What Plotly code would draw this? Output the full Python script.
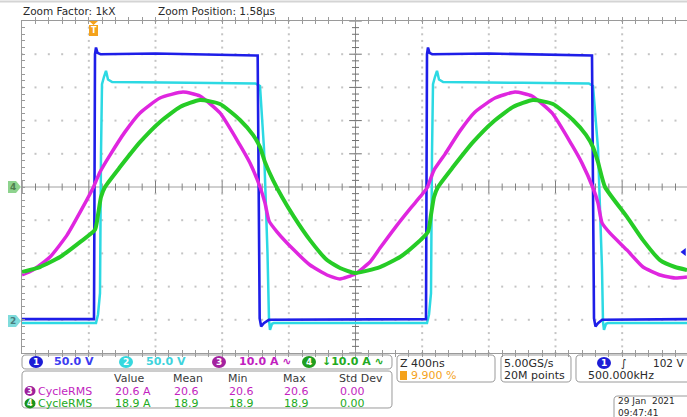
import plotly.graph_objects as go
import numpy as np

# ---------------- data ----------------
# time in ns relative to screen centre, 400 ns/div
ch1_t = [-2001, -1569, -1563, -1557, -1548, -1530, -1200, -900, -600, -587, -581, -575, -566, -550, -520,
         0, 300, 423, 429, 435, 444, 460, 800, 1100, 1410, 1419, 1425, 1431, 1440, 1455, 1480, 1989]
ch1_v = [1, 1, 400, 410, 402, 400, 401, 400, 399, 398, 200, 2, -10, -5, 0,
         1, 1, 1, 400, 410, 402, 400, 401, 400, 398, 398, 200, 2, -10, -5, 0, 1]

ch2_t = [-2001, -1557, -1545, -1533, -1527, -1521, -1509, -1497, -1485, -1460, -1000, -600, -573, -549, -528,
         -519, -513, -501, -490, 0, 429, 441, 453, 459, 465, 477, 489, 501, 526, 1000, 1400, 1425, 1455, 1479,
         1485, 1491, 1503, 1515, 1989]
ch2_v = [-5, -5, 8, 40, 250, 355, 366, 375, 362, 358, 357, 356, 352, 258, 100,
         0, -15, -6, -5, -5, -5, 8, 40, 250, 355, 366, 375, 362, 358, 357, 356, 352, 258, 77,
         -3, -15, -6, -5, -5]

ch3_t = [-2001, -1935, -1833, -1731, -1635, -1575, -1533, -1473, -1383, -1293, -1173, -1035, -933, -813, -693,
         -633, -573, -543, -519, -471, -369, -273, -171, -93, -3, 87, 147, 237, 327, 387, 429, 471, 537, 627,
         717, 837, 957, 1059, 1179, 1299, 1359, 1425, 1455, 1479, 1527, 1629, 1725, 1827, 1917, 1989]
ch3_a = [-26.5, -25.0, -21.1, -14.5, -6.0, -0.3, 4.5, 9.6, 16.6, 22.3, 26.8, 28.6, 27.4, 22.3, 12.6,
         7.2, 0.0, -4.8, -10.2, -13.5, -19.0, -23.5, -26.5, -27.7, -26.2, -22.6, -18.4, -12.3, -6.6, -3.0, -0.3,
         5.1, 9.9, 16.9, 22.6, 26.8, 28.6, 27.4, 22.3, 12.6, 7.2, -0.3, -4.8, -10.8, -13.9, -19.0, -24.1, -26.5,
         -27.4, -27.1]

ch4_t = [-2001, -1893, -1773, -1653, -1563, -1545, -1527, -1503, -1413, -1293, -1173, -1053, -933, -813, -693,
         -615, -573, -543, -495, -441, -369, -273, -171, -93, -3, 147, 267, 357, 435, 453, 471, 495, 585, 705,
         825, 945, 1065, 1185, 1305, 1383, 1425, 1455, 1497, 1629, 1725, 1827, 1917, 1989]
ch4_a = [-25.6, -24.1, -21.1, -16.6, -12.9, -8.4, -3.0, 0.0, 6.0, 13.5, 19.6, 24.1, 26.2, 25.0, 20.2,
         15.7, 12.0, 7.5, 2.1, -3.0, -9.0, -16.0, -22.0, -24.4, -25.9, -24.1, -21.1, -17.5, -13.5, -8.4, -3.0,
         0.0, 6.0, 13.5, 19.6, 24.1, 26.2, 25.0, 20.2, 15.7, 12.0, 7.5, 0.0, -9.0, -16.0, -22.0, -24.1, -25.0]

trig_level_v = 102
trig_t = 1971

ch_labels = ["50.0 V", "50.0 V", "10.0 A \u223f", "\u219310.0 A \u223f"]
meas_headers = ["Value", "Mean", "Min", "Max", "Std Dev"]
meas_rows = [
    ("3", "CycleRMS", ["20.6 A", "20.6", "20.6", "20.6", "0.00"]),
    ("4", "CycleRMS", ["18.9 A", "18.9", "18.9", "18.9", "0.00"]),
]

C_BLUE, C_CYAN, C_MAG, C_GRN = "#1e1ee8", "#2cd9e3", "#df26df", "#26cc26"
FONT = "DejaVu Sans"

# ---------------- figure ----------------
fig = go.Figure()

# grid dots
vx = [-1600, -1200, -800, -400, 400, 800, 1200, 1600]
hy = [-4, -3, -2, -1, 1, 2, 3, 4]
ys = np.round(np.arange(-5, 5.001, 0.2), 3)
xs = np.arange(-2000, 1990, 80)
gx = [x for x in vx for _ in ys] + [x for _ in hy for x in xs]
gy = [y for _ in vx for y in ys] + [y for y in hy for _ in xs]
fig.add_trace(go.Scatter(x=gx, y=gy, mode="markers", hoverinfo="skip",
                         marker=dict(symbol="square", size=2, color="#c4c4c4", line=dict(width=0))))

# centre lines
fig.add_shape(type="line", x0=0, x1=0, y0=-5, y1=5, xref="x", yref="y", line=dict(color="#8a8a8a", width=1), layer="below")
fig.add_shape(type="line", x0=-2001, x1=1989, y0=0, y1=0, xref="x", yref="y", line=dict(color="#a0a0a0", width=1), layer="below")
minor_y = [y for y in ys if abs(y - round(y)) > 1e-6]
major_y = [y for y in ys if abs(y - round(y)) < 1e-6]
fig.add_trace(go.Scatter(x=[0] * len(minor_y), y=minor_y, mode="markers", hoverinfo="skip",
                         marker=dict(symbol="line-ew", size=5, line=dict(color="#707070", width=1))))
fig.add_trace(go.Scatter(x=[0] * len(major_y), y=major_y, mode="markers", hoverinfo="skip",
                         marker=dict(symbol="line-ew", size=9, line=dict(color="#707070", width=1))))
minor_x = [x for x in xs if x % 400 != 0]
major_x = [x for x in xs if x % 400 == 0]
fig.add_trace(go.Scatter(x=minor_x, y=[0] * len(minor_x), mode="markers", hoverinfo="skip",
                         marker=dict(symbol="line-ns", size=5, line=dict(color="#808080", width=1))))
fig.add_trace(go.Scatter(x=major_x, y=[0] * len(major_x), mode="markers", hoverinfo="skip",
                         marker=dict(symbol="line-ns", size=9, line=dict(color="#808080", width=1))))

# waveforms
fig.add_trace(go.Scatter(x=ch3_t, y=ch3_a, yaxis="y3", mode="lines",
                         line=dict(color=C_MAG, width=3.5, shape="spline", smoothing=0.5), hoverinfo="skip"))
fig.add_trace(go.Scatter(x=ch4_t, y=ch4_a, yaxis="y3", mode="lines",
                         line=dict(color=C_GRN, width=4, shape="spline", smoothing=0.5), hoverinfo="skip"))
fig.add_trace(go.Scatter(x=ch2_t, y=ch2_v, yaxis="y2", mode="lines", line=dict(color=C_CYAN, width=2.5), hoverinfo="skip"))
fig.add_trace(go.Scatter(x=ch1_t, y=ch1_v, yaxis="y2", mode="lines", line=dict(color=C_BLUE, width=2.6), hoverinfo="skip"))

# trigger level marker
fig.add_trace(go.Scatter(x=[trig_t], y=[trig_level_v], yaxis="y2", mode="markers", hoverinfo="skip",
                         marker=dict(symbol="triangle-left", size=7, color=C_BLUE)))

fig.update_layout(
    width=687, height=417, margin=dict(l=22, r=0, t=21, b=64),
    paper_bgcolor="white", plot_bgcolor="white", showlegend=False,
    xaxis=dict(range=[-2001, 1989], showgrid=False, zeroline=False, showticklabels=False,
               ticks="inside", tick0=0, dtick=80, ticklen=3, tickcolor="#9a9a9a",
               showline=True, linecolor="#9a9a9a", linewidth=1, mirror="allticks"),
    yaxis=dict(range=[-5, 5], showgrid=False, zeroline=False, showticklabels=False,
               ticks="inside", tick0=0, dtick=0.2, ticklen=3, tickcolor="#9a9a9a",
               showline=True, linecolor="#9a9a9a", linewidth=1),
    yaxis2=dict(range=[-50, 450], overlaying="y", visible=False),
    yaxis3=dict(range=[-50, 50], overlaying="y", visible=False),
)

# ---------------- helpers for decorations (pixel -> paper) ----------------
def PX(px):
    return (px - 22) / 665.0


def PY(py):
    return (353 - py) / 332.0


def txt(s, px, py, color="#333333", size=11, anchor="left", weight="normal"):
    fig.add_annotation(x=PX(px), y=PY(py), xref="paper", yref="paper", text=s, showarrow=False,
                       xanchor=anchor, yanchor="middle", borderpad=0, align="left",
                       font=dict(family=FONT, size=size, color=color, weight=weight))


def rrect(x0, y0, x1, y1, r=4, color="#9a9a9a"):
    pts = [
        ("M", [(x0 + r, y0)]), ("L", [(x1 - r, y0)]), ("Q", [(x1, y0), (x1, y0 + r)]),
        ("L", [(x1, y1 - r)]), ("Q", [(x1, y1), (x1 - r, y1)]), ("L", [(x0 + r, y1)]),
        ("Q", [(x0, y1), (x0, y1 - r)]), ("L", [(x0, y0 + r)]), ("Q", [(x0, y0), (x0 + r, y0)]),
    ]
    path = " ".join(c + " " + " ".join(f"{PX(a):.5f},{PY(b):.5f}" for a, b in p) for c, p in pts) + " Z"
    fig.add_shape(type="path", path=path, xref="paper", yref="paper", line=dict(color=color, width=1))


def badge(n, cx, cy, fill, w=14, h=12, size=9):
    fig.add_shape(type="circle", xref="paper", yref="paper", x0=PX(cx - w / 2), x1=PX(cx + w / 2),
                  y0=PY(cy + h / 2), y1=PY(cy - h / 2), fillcolor=fill, line=dict(width=0))
    txt(n, cx, cy, "white", size, "center", "bold")


def tag(n, cy, fill, tcol):
    pts = [(8, cy - 6), (16, cy - 6), (21, cy), (16, cy + 6), (8, cy + 6)]
    path = "M " + " L ".join(f"{PX(a):.5f},{PY(b):.5f}" for a, b in pts) + " Z"
    fig.add_shape(type="path", path=path, xref="paper", yref="paper", fillcolor=fill, line=dict(width=0))
    txt(n, 13, cy, tcol, 9, "center", "bold")


# top strip
fig.add_shape(type="line", xref="paper", yref="paper", x0=PX(0), x1=PX(687), y0=PY(1.5), y1=PY(1.5),
              line=dict(color="#d4d4d4", width=2))
txt("Zoom Factor: 1kX", 22, 11, "#2a2a2a", 10.5)
txt("Zoom Position: 1.58\u00b5s", 157, 11, "#2a2a2a", 10.5)

# trigger position marker (orange T)
fig.add_shape(type="path", xref="paper", yref="paper",
              path=f"M {PX(89):.5f},{PY(21):.5f} L {PX(98):.5f},{PY(21):.5f} L {PX(93.5):.5f},{PY(25):.5f} Z",
              fillcolor="#f4a21c", line=dict(width=0))
fig.add_shape(type="rect", xref="paper", yref="paper", x0=PX(89), x1=PX(98), y0=PY(36), y1=PY(25),
              fillcolor="#f4a21c", line=dict(width=0))
txt("T", 93.5, 30.5, "white", 8, "center", "bold")

# channel ground tags at left
tag("4", 187, "#8ed38e", "#4e7e4e")
tag("2", 321, "#7fdcdc", "#4a7c7c")

# ---------------- bottom panels ----------------
rrect(22, 355, 392, 369)
badge("1", 36, 362, "#1c1cd6")
txt(ch_labels[0], 53, 362, "#3c3cf0", 11, weight="bold")
badge("2", 126, 362, "#36d8de")
txt(ch_labels[1], 145, 362, "#3fd3dc", 11, weight="bold")
badge("3", 219, 362, "#a4229f")
txt(ch_labels[2], 238, 362, "#c21fc0", 11, weight="bold")
badge("4", 309, 362, "#1f9e1f")
txt(ch_labels[3], 321, 362, "#22aa22", 11, weight="bold")

rrect(22, 371, 392, 408)
col_x = [113, 172, 227, 282, 338]
for h, x in zip(meas_headers, col_x):
    txt(h, x, 378, "#3a3a3a", 11)
row_cols = [("#9e1f9a", "#c21fc0"), ("#1b931b", "#22aa22")]
for i, (n, name, vals) in enumerate(meas_rows):
    yy = 391 + i * 12.5
    badge(n, 30, yy, row_cols[i][0], 11, 10, 8)
    txt(name, 37, yy, row_cols[i][1], 11)
    for v, x in zip(vals, col_x):
        txt(v, x + 1, yy, row_cols[i][1], 11)

rrect(397, 355, 495, 382)
txt("Z 400ns", 399, 363, "#2a2a2a", 11)
fig.add_shape(type="rect", xref="paper", yref="paper", x0=PX(400), x1=PX(407), y0=PY(380), y1=PY(371),
              fillcolor="#f4a21c", line=dict(width=0))
txt("9.900 %", 410, 375.5, "#f4a21c", 11)

rrect(501, 355, 571, 382)
txt("5.00GS/s", 503, 363, "#2a2a2a", 11)
txt("20M points", 503, 375.5, "#2a2a2a", 11)

rrect(576, 355, 700, 382)
badge("1", 604, 363, "#1c1cd6")
txt("\u222b", 620, 363, "#2a2a2a", 11)
txt("102 V", 652, 363, "#2a2a2a", 10.5)
txt("500.000kHz", 587, 375.5, "#2a2a2a", 11)

rrect(614, 396, 700, 425)
txt("29 Jan  2021<br>09:47:41", 617, 407, "#2a2a2a", 9)

fig.write_html("out.html")
